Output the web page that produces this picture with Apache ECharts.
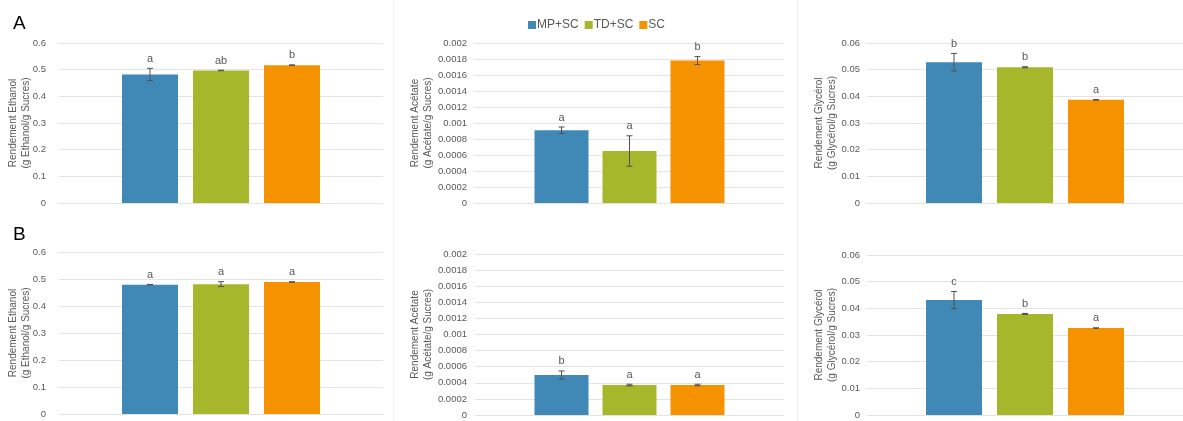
<!DOCTYPE html>
<html>
<head>
<meta charset="utf-8">
<script src="https://cdn.jsdelivr.net/npm/echarts@6/dist/echarts.min.js"></script>
<style>
html,body{margin:0;padding:0;background:#fff;}
#chart{width:1183px;height:421px;}
</style>
</head>
<body>
<div id="chart"></div>
<script>
// ---------- DATA ----------
const seriesNames = ['MP+SC', 'TD+SC', 'SC'];

const ethanolA = [0.482, 0.497, 0.517];
const ethanolAErr = [0.023, 0.001, 0.001];
const ethanolALetters = ['a', 'ab', 'b'];

const acetateA = [0.00091, 0.00065, 0.00178];
const acetateAErr = [0.00004, 0.00019, 0.00005];
const acetateALetters = ['a', 'a', 'b'];

const glycerolA = [0.0528, 0.0509, 0.0387];
const glycerolAErr = [0.0033, 0.0002, 0.0001];
const glycerolALetters = ['b', 'b', 'a'];

const ethanolB = [0.479, 0.481, 0.489];
const ethanolBErr = [0.001, 0.009, 0.001];
const ethanolBLetters = ['a', 'a', 'a'];

const acetateB = [0.000497, 0.000372, 0.000372];
const acetateBErr = [0.00005, 0.00001, 0.00001];
const acetateBLetters = ['b', 'a', 'a'];

const glycerolB = [0.0431, 0.0379, 0.0326];
const glycerolBErr = [0.0032, 0.0002, 0.0001];
const glycerolBLetters = ['c', 'b', 'a'];

const ethanolTicks = {max: 0.6, interval: 0.1};
const acetateTicks = {max: 0.002, interval: 0.0002};
const glycerolTicks = {max: 0.06, interval: 0.01};

const ethanolName = 'Rendement Ethanol\n(g Ethanol/g Sucres)';
const acetateName = 'Rendement Acétate\n(g Acétate/g Sucres)';
const glycerolName = 'Rendement Glycérol\n(g Glycérol/g Sucres)';

const panelLabels = ['A', 'B'];

// ---------- STYLE / LAYOUT ----------
const colors = ['#4088B5', '#A7B72B', '#F59200'];
const textColor = '#595959';
const fontFamily = "'Liberation Sans', Arial, sans-serif";

const columns = [
  {left: 59, width: 324, barWidth: 56, gap: 15, nameGap: 26, labelMargin: 13},
  {left: 475, width: 309, barWidth: 54, gap: 14, nameGap: 40, labelMargin: 8},
  {left: 867, width: 320, barWidth: 56, gap: 15, nameGap: 28, labelMargin: 7}
];
const rows = [
  [{top: 43, height: 160}, {top: 43, height: 160}, {top: 43, height: 160}],
  [{top: 252, height: 162}, {top: 254, height: 161}, {top: 255, height: 160}]
];

const panels = [
  {row: 0, col: 0, values: ethanolA, err: ethanolAErr, letters: ethanolALetters, ticks: ethanolTicks, name: ethanolName},
  {row: 0, col: 1, values: acetateA, err: acetateAErr, letters: acetateALetters, ticks: acetateTicks, name: acetateName},
  {row: 0, col: 2, values: glycerolA, err: glycerolAErr, letters: glycerolALetters, ticks: glycerolTicks, name: glycerolName},
  {row: 1, col: 0, values: ethanolB, err: ethanolBErr, letters: ethanolBLetters, ticks: ethanolTicks, name: ethanolName},
  {row: 1, col: 1, values: acetateB, err: acetateBErr, letters: acetateBLetters, ticks: acetateTicks, name: acetateName},
  {row: 1, col: 2, values: glycerolB, err: glycerolBErr, letters: glycerolBLetters, ticks: glycerolTicks, name: glycerolName}
];

const grid = [], xAxis = [], yAxis = [], series = [];

panels.forEach((p, i) => {
  const c = columns[p.col];
  const r = rows[p.row][p.col];
  grid.push({left: c.left, width: c.width, top: r.top, height: r.height, containLabel: false});
  xAxis.push({
    type: 'category', gridIndex: i, data: [''],
    axisLine: {show: false}, axisTick: {show: false}, axisLabel: {show: false}
  });
  yAxis.push({
    type: 'value', gridIndex: i, min: 0, max: p.ticks.max, interval: p.ticks.interval,
    name: p.name, nameLocation: 'middle', nameGap: c.nameGap, nameRotate: 90,
    nameMoveOverlap: false,
    nameTextStyle: {color: textColor, fontSize: 10, lineHeight: 13, fontFamily: fontFamily},
    axisLine: {show: false}, axisTick: {show: false},
    axisLabel: {color: textColor, fontSize: 9.5, fontFamily: fontFamily, margin: c.labelMargin},
    splitLine: {lineStyle: {color: '#e3e3e3', width: 1}}
  });
  const gapPct = (c.gap / c.barWidth * 100).toFixed(1) + '%';
  seriesNames.forEach((sn, k) => {
    series.push({
      type: 'bar', name: sn, xAxisIndex: i, yAxisIndex: i,
      data: [p.values[k]], barWidth: c.barWidth, barGap: gapPct,
      itemStyle: {color: colors[k]}, emphasis: {disabled: true},
      z: 2
    });
  });
  const errData = p.values.map((v, k) => [0, v, p.err[k], k]);
  series.push({
    type: 'custom', xAxisIndex: i, yAxisIndex: i, z: 5,
    data: errData,
    renderItem: function (params, api) {
      const v = api.value(1), e = api.value(2), k = api.value(3);
      const center = api.coord([0, v]);
      const x = center[0] + (k - 1) * (c.barWidth + c.gap);
      const yTop = api.coord([0, v + e])[1];
      const yBot = api.coord([0, v - e])[1];
      const capHalf = 3;
      const stroke = {stroke: '#505050', lineWidth: 1};
      return {
        type: 'group',
        children: [
          {type: 'line', shape: {x1: x, y1: yTop, x2: x, y2: yBot}, style: stroke},
          {type: 'line', shape: {x1: x - capHalf, y1: yTop, x2: x + capHalf, y2: yTop}, style: stroke},
          {type: 'line', shape: {x1: x - capHalf, y1: yBot, x2: x + capHalf, y2: yBot}, style: stroke},
          {type: 'text', style: {
            text: p.letters[params.dataIndex], x: x, y: yTop - 4,
            align: 'center', verticalAlign: 'bottom',
            fill: textColor, fontSize: 11, fontFamily: fontFamily
          }}
        ]
      };
    }
  });
});

const option = {
  backgroundColor: '#ffffff',
  animation: false,
  textStyle: {fontFamily: fontFamily},
  title: [
    {text: panelLabels[0], left: 8, top: 9, textStyle: {fontSize: 19, fontWeight: 'normal', color: '#000', fontFamily: fontFamily}},
    {text: panelLabels[1], left: 8, top: 220, textStyle: {fontSize: 19, fontWeight: 'normal', color: '#000', fontFamily: fontFamily}}
  ],
  legend: {
    data: seriesNames, left: 523, top: 14,
    itemWidth: 8, itemHeight: 8, itemGap: 6, icon: 'rect',
    textStyle: {color: textColor, fontSize: 12, fontFamily: fontFamily, padding: [0, 0, 0, -4]},
    selectedMode: false
  },
  graphic: [
    {type: 'line', shape: {x1: 393.5, y1: 0, x2: 393.5, y2: 421}, style: {stroke: '#f0f0f0', lineWidth: 1}, silent: true},
    {type: 'line', shape: {x1: 797.5, y1: 0, x2: 797.5, y2: 421}, style: {stroke: '#f0f0f0', lineWidth: 1}, silent: true}
  ],
  grid: grid, xAxis: xAxis, yAxis: yAxis, series: series
};

const chart = echarts.init(document.getElementById('chart'), null, {renderer: 'canvas'});
chart.setOption(option);
</script>
</body>
</html>
